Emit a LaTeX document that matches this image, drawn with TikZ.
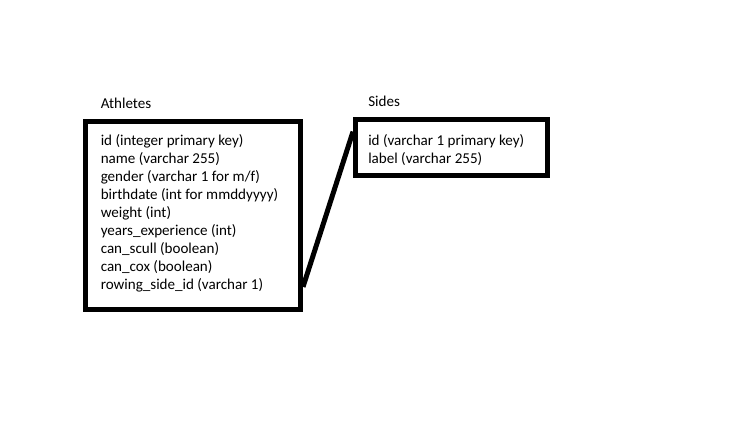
\documentclass[tikz,border=0pt]{standalone}
\usepackage{fontspec}
\setmainfont{Carlito}
\usetikzlibrary{calc}
\begin{document}
\begin{tikzpicture}[x=0.75pt,y=-0.75pt,
  tablebox/.style={draw=black,line width=3.75pt,inner sep=0pt,fill=none},
  title/.style={anchor=base west,inner sep=0pt,font=\fontsize{11.3pt}{13.5pt}\selectfont},
  fields/.style={anchor=north west,inner sep=0pt,align=left,font=\fontsize{11.3pt}{13.5pt}\selectfont},
  link/.style={draw=black,line width=3.75pt}]
\useasboundingbox[fill=white] (0,0) rectangle (738,429);
% boxes
\node[tablebox,minimum width=161.25pt,minimum height=141pt] (ath) at (193,215.5) {};
\node[tablebox,minimum width=144pt,minimum height=42pt] (sid) at (451.5,147.5) {};
% titles
\node[title] (athT) at (100.5,108.3) {Athletes};
\node[title] (sidT) at (368,106.7) {Sides};
% fields
\node[fields] (athF) at (100.5,134.6) {id (integer primary key)\\
name (varchar 255)\\
gender (varchar 1 for m/f)\\
birthdate (int for mmddyyyy)\\
weight (int)\\
years\_experience (int)\\
can\_scull (boolean)\\
can\_cox (boolean)\\
rowing\_side\_id (varchar 1)};
\node[fields] (sidF) at (368,133.9) {id (varchar 1 primary key)\\
label (varchar 255)};
% connector
\coordinate (a1) at ($(ath.north east)!0.87!(ath.south east)$);
\coordinate (s1) at ($(sid.north west)!0.24!(sid.south west)$);
\draw[link] (a1) -- (s1);
\end{tikzpicture}
\end{document}
